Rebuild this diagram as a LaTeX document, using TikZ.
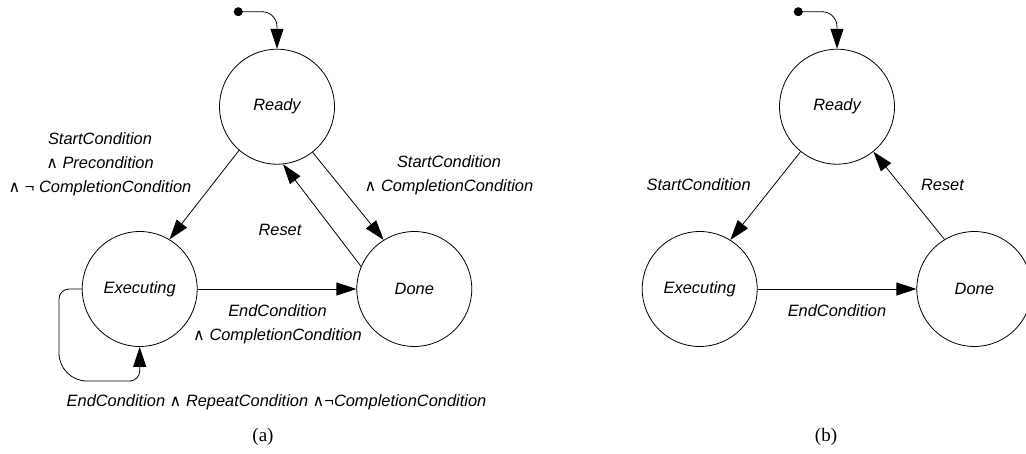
\documentclass[tikz,border=0pt]{standalone}
\usepackage{fontspec}
\setmainfont{Liberation Serif}
\setsansfont{Liberation Sans}
\newfontfamily\djv{DejaVu Sans}
\usetikzlibrary{positioning}
\usetikzlibrary{arrows.meta}
\newcommand{\lnd}{{\djv\fontsize{16}{16}\selectfont ∧}}
\tikzset{
    mynode/.style = {circle, line width=0.8pt, draw=black, align=center, fill=white, minimum size=115pt, inner sep=0pt, font=\sffamily\itshape\fontsize{16.4}{24}\selectfont, text=black},
    mydot/.style = {circle, fill=black, inner sep=0pt, minimum size=9pt},
    edgen/.style = {-{Triangle[length=20pt,width=13pt]}, line width=0.8pt, black},
    loopn/.style = {edgen, rounded corners=10pt},
    lbl/.style = {align=center, inner sep=0pt, font=\sffamily\itshape\fontsize{16.4}{24}\selectfont},
    mycap/.style = {inner sep=0pt, font=\fontsize{19}{19}\selectfont}
}
\begin{document}
\begin{tikzpicture}[x=1pt,y=-1pt]
\useasboundingbox (0,0) rectangle (1026,453);

% (a)
\node[mynode] at (277.0, 106.7) (ra) {Ready};
\node[mynode] at (139.7, 289.0) (ea) {Executing};
\node[mynode] at (414.3, 289.0) (da) {Done};
\node[mydot] at (238.3, 11.7) (ia) {};
\coordinate (la) at (59.0, 289.0);
\coordinate (lb) at (59.0, 381.0);
\coordinate (lc) at (139.7, 381.0);

\draw[edgen, rounded corners=15pt] (ia.center) -| (ra.north);
\draw[edgen] (ra.229) -- (ea.59);
\draw[edgen] (ra.-52) -- (da.122);
\draw[edgen] (da.157) -- (ra.-84);
\draw[edgen] (ea) -- (da);
\draw[loopn] (ea.west) -- (la) [rounded corners=28pt] -- (lb) [rounded corners=10pt] -- (lc) -- (ea.south);

\node[lbl] at (100.0, 164.0) (sa) {StartCondition\\ \lnd{} Precondition\\ \lnd{} ¬ CompletionCondition};
\node[lbl] at (449.0, 175.0) (sca) {StartCondition\\ \lnd{} CompletionCondition};
\node[lbl] at (280.0, 230.0) (rsa) {Reset};
\node[lbl] at (277.5, 324.0) (eca) {EndCondition\\ \lnd{} CompletionCondition};
\node[lbl] at (276.5, 402.0) (rpa) {EndCondition \lnd{} RepeatCondition \lnd¬CompletionCondition};
\node[mycap] at (263.0, 437.0) (capa) {(a)};

% (b)
\node[mynode] at (837.0, 106.7) (rb) {Ready};
\node[mynode] at (699.7, 289.0) (eb) {Executing};
\node[mynode] at (974.3, 289.0) (db) {Done};
\node[mydot] at (798.3, 11.7) (ib) {};

\draw[edgen, rounded corners=15pt] (ib.center) -| (rb.north);
\draw[edgen] (rb.231) -- (eb.58);
\draw[edgen] (db.121) -- (rb.-51);
\draw[edgen] (eb) -- (db);

\node[lbl] at (698.7, 185.0) (sb) {StartCondition};
\node[lbl] at (942.5, 185.0) (rsb) {Reset};
\node[lbl] at (837.0, 311.0) (ecb) {EndCondition};
\node[mycap] at (826.0, 437.0) (capb) {(b)};

\end{tikzpicture}
\end{document}
